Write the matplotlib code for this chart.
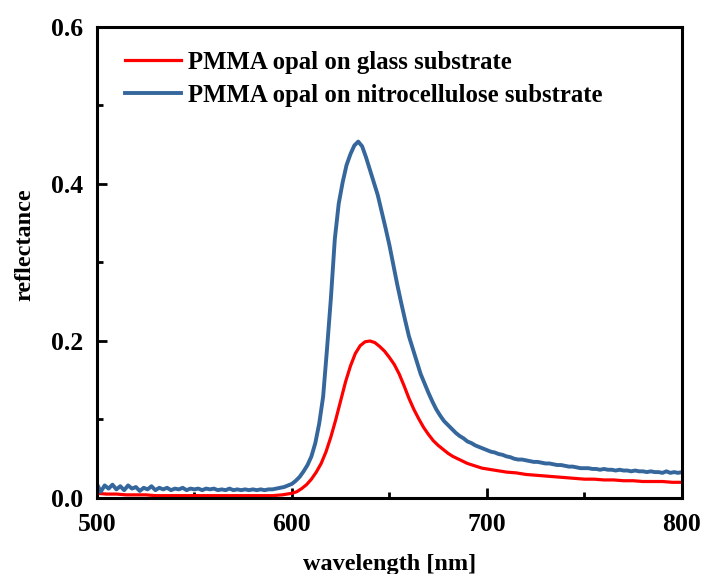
import numpy as np
import matplotlib
matplotlib.use("Agg")
import matplotlib.pyplot as plt
from matplotlib.ticker import MultipleLocator

# reflectance spectra, nitrocellulose sampled every 2 nm
wl_nitro = np.arange(500, 801, 2)
r_nitro = [
    0.018, 0.008, 0.016, 0.012, 0.017, 0.011, 0.015, 0.010, 0.016, 0.012,
    0.014, 0.009, 0.013, 0.011, 0.015, 0.010, 0.013, 0.011, 0.013, 0.010,
    0.012, 0.011, 0.013, 0.010, 0.012, 0.011, 0.012, 0.010, 0.012, 0.011,
    0.012, 0.010, 0.011, 0.010, 0.012, 0.010, 0.011, 0.010, 0.011, 0.010,
    0.011, 0.010, 0.011, 0.010, 0.011, 0.011, 0.012, 0.013, 0.014, 0.016,
    0.018, 0.022, 0.027, 0.034, 0.042, 0.053, 0.070, 0.095, 0.129, 0.190,
    0.255, 0.330, 0.375, 0.402, 0.424, 0.438, 0.449, 0.454, 0.448, 0.434,
    0.418, 0.402, 0.386, 0.365, 0.344, 0.322, 0.297, 0.272, 0.249, 0.227,
    0.206, 0.190, 0.174, 0.158, 0.146, 0.134, 0.123, 0.113, 0.105, 0.098,
    0.093, 0.088, 0.083, 0.079, 0.076, 0.072, 0.070, 0.067, 0.065, 0.063,
    0.061, 0.059, 0.058, 0.056, 0.055, 0.053, 0.052, 0.050, 0.049, 0.049,
    0.048, 0.047, 0.046, 0.046, 0.045, 0.044, 0.044, 0.043, 0.042, 0.042,
    0.041, 0.040, 0.040, 0.039, 0.038, 0.038, 0.038, 0.037, 0.037, 0.036,
    0.037, 0.036, 0.036, 0.035, 0.036, 0.035, 0.035, 0.034, 0.035, 0.034,
    0.034, 0.033, 0.034, 0.033, 0.033, 0.032, 0.034, 0.032, 0.033, 0.032,
    0.033,
]

# glass: 5 nm steps on the flat parts, 2.5 nm across the peak
wl_glass = np.r_[np.arange(500, 595, 5), np.arange(595, 700, 2.5),
                 np.arange(700, 801, 5)]
r_glass = [
    0.006, 0.005, 0.005, 0.004, 0.004, 0.004, 0.003, 0.003, 0.003, 0.003,
    0.003, 0.003, 0.003, 0.003, 0.003, 0.003, 0.003, 0.003, 0.003,
    # 595 - 697.5
    0.004, 0.005, 0.006, 0.008, 0.012, 0.017, 0.024, 0.033, 0.044, 0.059,
    0.078, 0.100, 0.124, 0.148, 0.168, 0.184, 0.194, 0.199, 0.200, 0.198,
    0.193, 0.187, 0.179, 0.170, 0.158, 0.143, 0.127, 0.113, 0.101, 0.090,
    0.081, 0.073, 0.067, 0.062, 0.057, 0.053, 0.050, 0.047, 0.044, 0.042,
    0.040, 0.038,
    # 700 - 800
    0.037, 0.035, 0.033, 0.032, 0.030, 0.029, 0.028, 0.027, 0.026, 0.025,
    0.024, 0.024, 0.023, 0.023, 0.022, 0.022, 0.021, 0.021, 0.021, 0.020,
    0.020,
]

label_glass = "PMMA opal on glass substrate"
label_nitro = "PMMA opal on nitrocellulose substrate"

plt.rcParams["font.family"] = ["Liberation Serif", "DejaVu Serif"]
plt.rcParams["font.weight"] = "bold"

fig = plt.figure(figsize=(7.02, 5.74), dpi=100)
ax = fig.add_axes([0.138, 0.1324, 0.8335, 0.8206])

ax.plot(wl_glass, r_glass, color="#ff0000", lw=2.3, label=label_glass)
ax.plot(wl_nitro, r_nitro, color="#36679c", lw=2.8, label=label_nitro)

ax.set_xlim(500, 800)
ax.set_ylim(0, 0.6)
ax.xaxis.set_major_locator(MultipleLocator(100))
ax.xaxis.set_minor_locator(MultipleLocator(50))
ax.yaxis.set_major_locator(MultipleLocator(0.2))
ax.yaxis.set_minor_locator(MultipleLocator(0.1))
ax.yaxis.set_major_formatter(lambda v, p: f"{v:.1f}")
ax.tick_params(which="both", direction="in", width=2, labelsize=18.5)
ax.tick_params(axis="y", pad=10)
ax.tick_params(axis="x", pad=11)
ax.tick_params(which="major", length=7)
ax.tick_params(which="minor", length=4)
for sp in ax.spines.values():
    sp.set_linewidth(2.2)

ax.set_xlabel("wavelength [nm]", fontsize=17.5, fontweight="bold")
ax.set_ylabel("reflectance", fontsize=17.5, fontweight="bold")
ax.xaxis.set_label_coords(0.5, -0.118)
ax.yaxis.set_label_coords(-0.106, 0.537)

ax.legend(loc="upper left", frameon=False, handlelength=2.25,
          handletextpad=0.3, labelspacing=0.4, borderpad=0,
          bbox_to_anchor=(0.048, 0.949), borderaxespad=0,
          prop={"weight": "bold", "size": 17.8})

fig.savefig("out.png", dpi=100)
